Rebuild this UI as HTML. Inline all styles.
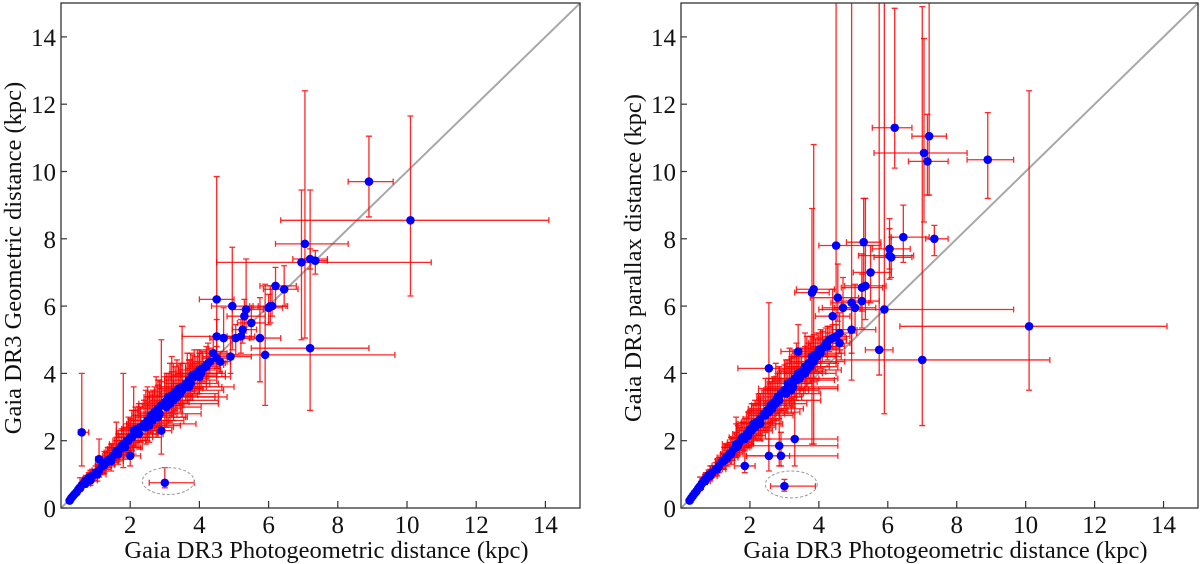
<!DOCTYPE html>
<html><head><meta charset="utf-8"><style>
html,body{margin:0;padding:0;background:#fff;}
svg{display:block;}
text{font-family:"Liberation Serif",serif;fill:#111;}
</style></head><body>
<svg id="chart" width="1200" height="564" viewBox="0 0 1200 564"></svg>
<script>
const tickValues = [0,2,4,6,8,10,12,14];
const bandX = [.25,.3,.35,.4,.45,.5,.55,.6,.65,.7,.75,.8,.85,.9,1.0,1.1,1.2,1.3,1.4,1.5,1.6,1.7,1.75,1.8,1.9,2.0,2.1,2.2,2.3,2.4,2.5,2.6,2.7,2.8,2.9,3.0,3.1,3.2,3.3,3.4,3.5,3.6,3.7,3.8,3.9,4.0,4.1,4.2,4.3,4.4,4.5,4.6];
const bandExm = [.02,.02,.03,.03,.04,.04,.05,.05,.06,.1,.1,.15,.1,.15,.15,.2,.2,.2,.25,.3,.3,.35,.3,.4,.4,.4,.5,.45,.5,.5,.5,.55,.5,.6,.55,.6,.6,.65,.6,.6,.65,.6,.7,.6,.6,.6,.5,.5,.5,.4,.4,.3];
const bandExp = [.02,.03,.03,.04,.04,.05,.05,.06,.06,.1,.15,.15,.15,.2,.2,.2,.25,.25,.3,.3,.35,.4,.35,.4,.45,.5,.5,.55,.6,.6,.6,.65,.6,.7,.65,.7,.7,.75,.7,.7,.7,.7,.8,.7,.6,.6,.5,.5,.5,.4,.4,.3];
const bandEym = [.03,.03,.04,.04,.05,.05,.06,.06,.08,.1,.1,.12,.1,.15,.15,.2,.2,.25,.25,.3,.3,.3,.35,.35,.4,.4,.45,.4,.45,.5,.5,.5,.55,.5,.5,.55,.5,.5,.55,.5,.5,.5,.45,.5,.45,.4,.4,.4,.35,.35,.3,.3];
const bandEyp = [.03,.04,.04,.05,.05,.06,.07,.08,.1,.12,.15,.15,.15,.2,.2,.25,.25,.3,.35,.35,.4,.45,.5,.45,.5,.55,.6,.55,.6,.7,.7,.7,.75,.7,.7,.75,.7,.7,.75,.7,.7,.6,.6,.6,.5,.5,.5,.45,.4,.4,.35,.3];
const leftBandY = [.22,.3,.36,.42,.47,.55,.6,.68,.72,.8,.82,.9,.92,.95,1.05,1.12,1.25,1.35,1.45,1.55,1.7,1.75,1.85,1.9,2.0,2.1,2.3,2.35,2.4,2.5,2.6,2.75,2.85,2.95,3.05,3.15,3.3,3.35,3.45,3.55,3.6,3.7,3.8,3.95,4.0,4.1,4.15,4.25,4.35,4.6,4.45,4.35];
const rightBandY = [.22,.3,.37,.44,.5,.58,.64,.72,.78,.85,.9,.98,1.0,1.05,1.15,1.25,1.38,1.5,1.6,1.72,1.85,1.95,2.05,2.1,2.2,2.35,2.5,2.55,2.65,2.8,2.9,3.05,3.15,3.3,3.4,3.5,3.7,3.75,3.85,4.0,4.05,4.2,4.3,4.5,4.55,4.7,4.75,4.9,5.0,5.05,5.1,4.9];
// secondary scatter within the band
const band2X = [.55,.7,.85,1.05,1.25,1.45,1.6,1.85,2.05,2.25,2.45,2.65,2.85,3.05,3.25,3.45,3.65,3.85,4.05,4.25,1.35,1.95,2.55,3.15,3.75,2.15,2.75,3.35,3.95,1.65];
const band2Exm = [.1,.1,.15,.2,.25,.3,.35,.4,.45,.6,.5,.7,.6,.8,.7,.6,.8,.7,.6,.5,.3,.4,.6,.9,.5,.5,.6,.7,.6,.4];
const band2Exp = [.1,.15,.2,.25,.3,.35,.4,.5,.6,.7,.8,.9,1.2,1.0,1.3,1.1,1.0,.9,.7,.5,.3,.5,.9,1.4,.8,.6,.9,1.1,.7,.4];
const band2Eym = [.1,.1,.15,.2,.25,.3,.3,.35,.4,.45,.5,.5,.55,.6,.6,.55,.5,.5,.45,.4,.25,.35,.5,.55,.5,.4,.5,.6,.45,.3];
const band2Eyp = [.3,.2,.3,.3,.4,.5,.9,.6,.8,.9,1.1,.9,1.0,1.0,1.1,.9,1.0,.8,.7,.6,.4,.7,1.0,1.2,.9,.8,1.2,1.1,.7,.6];
const leftBand2Y = [.6,.72,.82,1.0,1.28,1.4,1.65,1.8,2.1,2.2,2.4,2.6,2.8,3.0,3.2,3.4,3.6,3.9,4.0,4.3,1.4,2.0,2.45,3.1,3.7,2.2,2.7,3.3,4.0,1.6];
const rightBand2Y = [.62,.8,.95,1.15,1.4,1.6,1.8,2.05,2.3,2.5,2.75,2.95,3.2,3.4,3.6,3.85,4.1,4.35,4.6,4.8,1.5,2.15,2.85,3.55,4.2,2.4,3.1,3.8,4.5,1.85];
const leftX   = [8.9,10.1,7.05,6.95,7.2,7.35,6.2,6.45,4.5,4.95,5.35,5.3,5.5,5.25,5.2,5.05,4.7,4.5,5.75,6.05,6.0,6.1,4.9,5.9,7.2,0.6,2.9,1.1,2.0,3.0,3.5,3.2,2.5,3.7,1.8,2.1,2.8,4.0,4.2];
const leftY   = [9.7,8.55,7.85,7.3,7.4,7.35,6.6,6.5,6.2,6.0,5.9,5.7,5.5,5.3,5.1,5.05,5.05,5.1,5.05,6.0,5.95,6.0,4.5,4.55,4.75,2.25,2.3,1.45,1.55,0.75,3.5,3.3,2.5,3.6,1.8,2.2,2.7,3.9,4.2];
const leftExm = [.6,3.75,.85,2.45,.5,.3,.45,.6,.5,.6,.4,.5,.4,.3,.4,.3,.4,1.0,.7,.5,.5,.4,.8,1.4,1.7,.1,.4,.1,.3,.45,.6,.8,.6,.5,.4,.5,.5,1.0,.5];
const leftExp = [.7,4.0,1.25,3.75,.5,.35,.6,.4,.5,.5,.5,.6,.4,.4,.4,.4,.4,.8,.6,.5,.4,.4,.6,3.75,1.7,.2,.3,.2,.3,.85,1.2,1.6,1.4,1.3,.5,.7,.8,.9,.4];
const leftEym = [1.05,2.25,2.8,2.3,.3,.4,.6,.5,1.7,1.3,.6,.5,.5,.4,.5,.5,.4,.6,1.3,.5,.5,.3,.5,1.5,1.85,1.0,.7,.4,.3,.15,.8,.6,.5,.4,.6,.6,.6,.5,.5];
const leftEyp = [1.35,3.1,4.55,2.15,.3,.3,.55,.7,3.65,1.75,1.5,.5,.5,.6,.5,.4,.9,.5,1.2,.6,.4,.5,.6,2.1,4.7,1.75,2.7,.6,.4,.45,1.9,1.2,1.1,.8,2.2,1.4,1.1,.7,.6];
const rightX   = [6.2,7.2,7.05,7.15,8.9,4.5,5.3,6.05,6.05,6.1,6.45,7.35,10.1,7.0,5.9,3.85,3.8,5.5,5.35,5.25,4.55,4.95,5.25,4.7,5.05,4.4,4.95,4.6,5.75,2.55,3.4,3.3,2.85,2.9,2.55,1.85,3.0,3.6,3.2,2.3,1.6];
const rightY   = [11.3,11.05,10.55,10.3,10.35,7.8,7.9,7.7,7.5,7.45,8.05,8.0,5.4,4.4,5.9,6.5,6.4,7.0,6.6,6.55,6.25,6.1,6.15,5.95,5.95,5.7,5.3,5.2,4.7,4.15,4.65,2.05,1.85,1.55,1.55,1.25,0.65,4.0,3.5,2.5,1.9];
const rightExm = [.65,.5,1.45,.55,.6,.5,.5,.5,.9,.5,.35,.25,3.75,2.5,1.9,.5,.5,.5,.6,.6,.8,.6,.6,.6,.6,.5,.6,.5,.4,.9,.5,1.3,.9,1.0,.65,.3,.4,.6,.7,.5,.4];
const rightExp = [.5,.5,1.25,.6,.75,1.3,.5,.6,.7,.6,.75,.4,4.0,3.7,3.75,.6,.5,.6,.6,.6,.6,.5,.5,.5,.6,.5,.7,.5,.4,1.35,.5,1.25,1.7,1.65,.6,.3,.9,.9,.8,.6,.5];
const rightEym = [1.2,1.75,2.05,1.0,1.15,3.5,1.3,.6,.7,.6,.75,.5,1.9,1.95,3.1,4.6,4.5,.9,1.0,.7,.7,2.3,.8,.8,.6,.6,.7,.5,.75,2.65,.8,.8,.6,.3,.45,.2,.15,.6,.7,.5,.4];
const rightEyp = [3.55,4.5,3.4,1.4,1.4,7.5,1.3,.9,.8,.6,.95,.4,7.0,10.5,9.5,4.3,2.5,.8,2.6,1.0,1.0,10,.8,.9,.7,.8,.6,.6,10.5,1.95,.8,1.8,1.0,.7,.5,.5,.2,1.2,1.0,.9,.6];

const NS = "http://www.w3.org/2000/svg";
const svg = document.getElementById('chart');
function mk(tag, attrs, parent){
  const e = document.createElementNS(NS, tag);
  for (const k in attrs) e.setAttribute(k, attrs[k]);
  (parent||svg).appendChild(e);
  return e;
}
function drawPanel(cfg){
  const g = mk('g', {});
  
  
  const sx = v => cfg.x0 + (v/15)*(cfg.x1-cfg.x0);
  const sy = v => 508 - v*33.65;
  const d = mk('line', {x1:sx(0),y1:sy(0),x2:sx(15),y2:sy(15),stroke:'#a8a8a8','stroke-width':2}, g);
  
  
  const clipId = cfg.name + '-clip';
  const cp = mk('clipPath', {id:clipId}, g);
  mk('rect', {x:cfg.x0,y:3,width:cfg.x1-cfg.x0,height:505}, cp);
  const eg = mk('g', {'clip-path':'url(#'+clipId+')'}, g);
  
  
  const pts = [];
  for (let i=0;i<bandX.length;i++) pts.push([bandX[i], cfg.bandY[i], bandExm[i], bandExp[i], bandEym[i], bandEyp[i]]);
  for (let i=0;i<band2X.length;i++) pts.push([band2X[i], cfg.band2Y[i], band2Exm[i], band2Exp[i], band2Eym[i], band2Eyp[i]]);
  for (let i=0;i<cfg.xs.length;i++) pts.push([cfg.xs[i], cfg.ys[i], cfg.exm[i], cfg.exp[i], cfg.eym[i], cfg.eyp[i]]);
  pts.forEach(p => {
    const cx = sx(p[0]), cy = sy(p[1]);
    const xl = sx(p[0]-p[2]), xr = sx(p[0]+p[3]), yt = sy(p[1]+p[5]), yb = sy(p[1]-p[4]);
    const path = `M${xl},${cy}H${xr}M${xl},${cy-3}V${cy+3}M${xr},${cy-3}V${cy+3}M${cx},${yt}V${yb}M${cx-3},${yt}H${cx+3}M${cx-3},${yb}H${cx+3}`;
    const e = mk('path', {d:path, stroke:'#f00', 'stroke-width':1.3, fill:'none', opacity:0.85}, eg);
    
    
  });
  pts.forEach(p => {
    const c = mk('circle', {cx:sx(p[0]), cy:sy(p[1]), r:4.3, fill:'#0000ff'}, g);
    
    
  });
  const el = mk('ellipse', {cx:sx(cfg.ell[0]), cy:sy(cfg.ell[1]), rx:cfg.ell[2]*34.6, ry:cfg.ell[3]*33.65, fill:'none', stroke:'#999', 'stroke-width':1, 'stroke-dasharray':'3,2'}, g);
  
  
  const fr = mk('rect', {x:cfg.x0, y:3, width:cfg.x1-cfg.x0, height:505, fill:'none', stroke:'#333', 'stroke-width':1.3}, g);
  
  
  tickValues.forEach(t => {
    if (t>0) {
      const tk = mk('line', {x1:sx(t), y1:508, x2:sx(t), y2:501, stroke:'#333','stroke-width':1.2}, g);
      
      
      const tl = mk('text', {x:sx(t), y:533, 'text-anchor':'middle', 'font-size':25}, g);
      tl.textContent = t;
      
      
    }
    const yk = mk('line', {x1:cfg.x0, y1:sy(t), x2:cfg.x0+6, y2:sy(t), stroke:'#333','stroke-width':1.2}, g);
    
    
    const yl = mk('text', {x:cfg.x0-5, y:sy(t)+9, 'text-anchor':'end', 'font-size':25}, g);
    yl.textContent = t;
    
    
  });
  const xt = mk('text', {x:(cfg.x0+cfg.x1)/2+6, y:558, 'text-anchor':'middle', 'font-size':24.5}, g);
  xt.textContent = 'Gaia DR3 Photogeometric distance (kpc)';
  
  
  const yt = mk('text', {x:0, y:0, 'text-anchor':'middle', 'font-size':24.5, 'xml:space':'preserve', transform:`translate(${cfg.x0-40},258) rotate(-90)`}, g);
  yt.textContent = cfg.ytitle;
  
  
}
drawPanel({name:'left-panel', x0:61, x1:580, bandY:leftBandY, band2Y:leftBand2Y, xs:leftX, ys:leftY, exm:leftExm, exp:leftExp, eym:leftEym, eyp:leftEyp, ell:[3.1,0.8,0.75,0.4], ytitle:'Gaia DR3 Geometric  distance (kpc)'});
drawPanel({name:'right-panel', x0:681, x1:1198, bandY:rightBandY, band2Y:rightBand2Y, xs:rightX, ys:rightY, exm:rightExm, exp:rightExp, eym:rightEym, eyp:rightEyp, ell:[3.2,0.7,0.75,0.4], ytitle:'Gaia DR3 parallax  distance (kpc)'});
</script>
</body></html>
